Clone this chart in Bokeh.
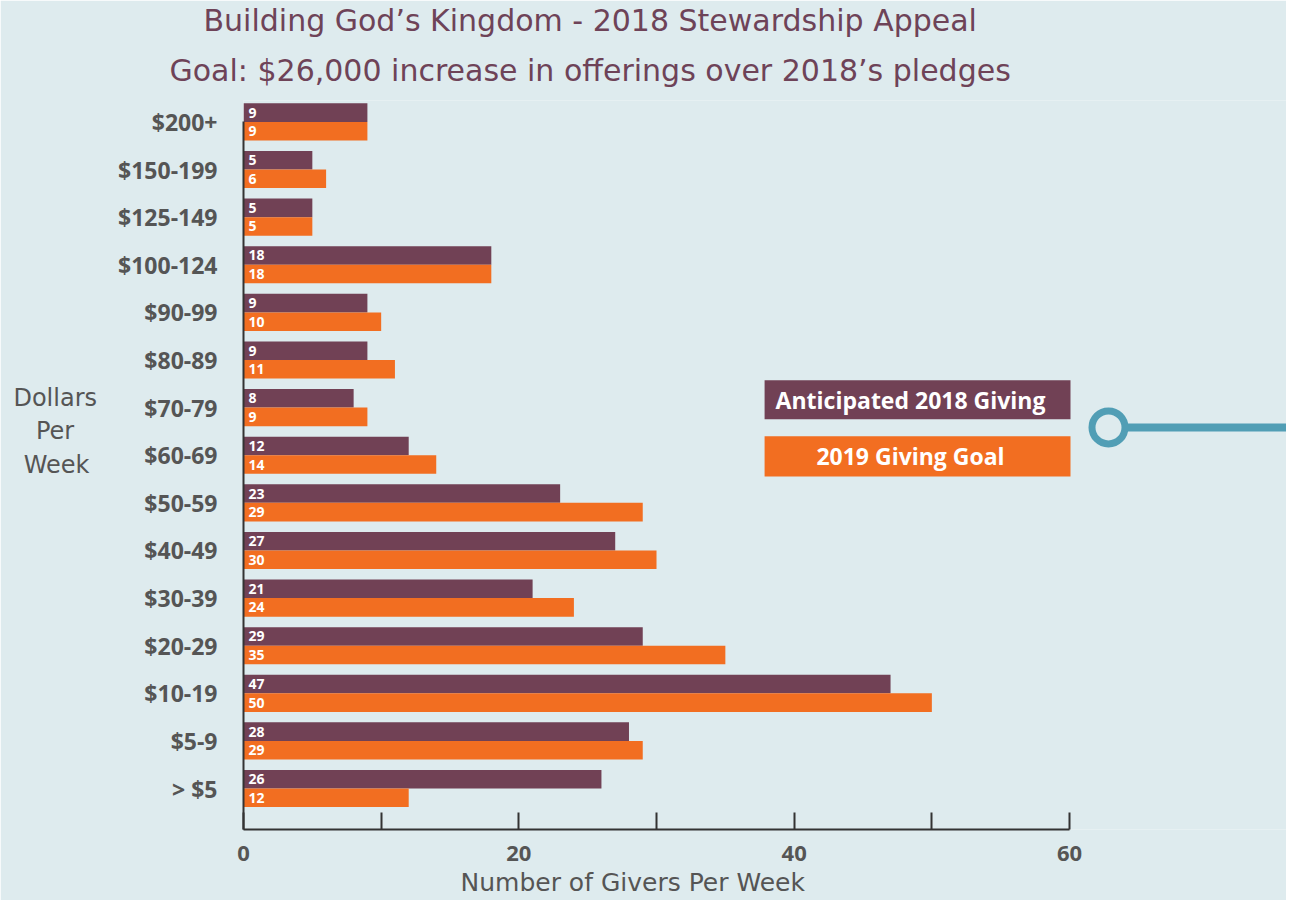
from bokeh.plotting import figure
from bokeh.models import Range1d, FixedTicker, ColumnDataSource, Title
from bokeh.transform import dodge
from bokeh.core.properties import value
from bokeh.embed import file_html
from bokeh.resources import INLINE

# ---- data (top to bottom) ----
categories = ["$200+", "$150-199", "$125-149", "$100-124", "$90-99", "$80-89",
              "$70-79", "$60-69", "$50-59", "$40-49", "$30-39", "$20-29",
              "$10-19", "$5-9", "> $5"]
anticipated_2018 = [9, 5, 5, 18, 9, 9, 8, 12, 23, 27, 21, 29, 47, 28, 26]
goal_2019 = [9, 6, 5, 18, 10, 11, 9, 14, 29, 30, 24, 35, 50, 29, 12]
x_ticks = [0, 20, 40, 60]
x_minor_ticks = [10, 30, 50]
series_names = ["Anticipated 2018 Giving", "2019 Giving Goal"]
title_lines = ["Building God\u2019s Kingdom - 2018 Stewardship Appeal",
               "Goal: $26,000 increase in offerings over 2018\u2019s pledges"]
x_label = "Number of Givers Per Week"
NB = "\u00a0"
y_label = "Dollars\nPer" + NB * 3 + "\nWeek" + NB + "\n" + NB + "\n" + NB

BG = "#deebee"
PURPLE = "#714155"
ORANGE = "#f26e21"
TEAL = "#519eb5"
TXT = "#555555"
TITLE = "#6e4358"
FONT = "Open Sans"
LIGHT = "DejaVu Sans"

n = len(categories)
pos = [n - 1 - i for i in range(n)]
src = ColumnDataSource(dict(pos=pos, cat=categories, a=anticipated_2018, g=goal_2019,
                            a_txt=[str(v) for v in anticipated_2018],
                            g_txt=[str(v) for v in goal_2019]))

p = figure(width=1286, height=900, output_backend="svg", toolbar_location=None,
           x_range=Range1d(0, 75.76), y_range=Range1d(-0.86, 14.45),
           min_border_left=243, min_border_right=0, min_border_top=100, min_border_bottom=71)
p.background_fill_color = BG
p.border_fill_color = BG
p.outline_line_color = None
p.xgrid.visible = False
p.ygrid.visible = False

off = 0.195
h = 0.39
p.hbar(y=dodge("pos", off), left=0, right="a", height=h, source=src, color=PURPLE, line_color=None)
p.hbar(y=dodge("pos", -off), left=0, right="g", height=h, source=src, color=ORANGE, line_color=None)
p.text(x=0, y=dodge("pos", off), text="a_txt", source=src, x_offset=5, text_baseline="middle",
       text_color="white", text_font=value(FONT), text_font_style="bold", text_font_size="14px")
p.text(x=0, y=dodge("pos", -off), text="g_txt", source=src, x_offset=5, text_baseline="middle",
       text_color="white", text_font=value(FONT), text_font_style="bold", text_font_size="14px")

# x axis
xa = p.xaxis[0]
xa.ticker = FixedTicker(ticks=x_ticks, minor_ticks=x_minor_ticks)
xa.bounds = (0, 60)
xa.axis_line_color = "#333333"
xa.axis_line_width = 2
xa.major_tick_in = 17
xa.major_tick_out = 0
xa.minor_tick_in = 17
xa.minor_tick_out = 0
xa.major_tick_line_color = "#333333"
xa.minor_tick_line_color = "#333333"
xa.major_tick_line_width = 2
xa.minor_tick_line_width = 2
xa.major_label_standoff = 16
xa.major_label_text_font = FONT
xa.major_label_text_font_style = "bold"
xa.major_label_text_font_size = "22px"
xa.major_label_text_color = TXT

# y axis
ya = p.yaxis[0]
ya.ticker = FixedTicker(ticks=pos, minor_ticks=[])
ya.major_label_overrides = {pp: c for pp, c in zip(pos, categories)}
ya.bounds = (-0.86, 14)
ya.axis_line_color = "#333333"
ya.axis_line_width = 2
ya.major_tick_in = 0
ya.major_tick_out = 0
ya.minor_tick_in = 0
ya.minor_tick_out = 0
ya.major_label_standoff = 26
ya.major_label_text_font = FONT
ya.major_label_text_font_style = "bold"
ya.major_label_text_font_size = "23px"
ya.major_label_text_color = TXT
ya.axis_label = y_label
ya.axis_label_orientation = "horizontal"
ya.axis_label_standoff = 18
ya.axis_label_text_font = LIGHT
ya.axis_label_text_font_style = "normal"
ya.axis_label_text_font_size = "24px"
ya.axis_label_text_line_height = 1.2
ya.axis_label_text_color = TXT

# legend boxes
p.quad(left=[37.85, 37.85], right=[60.07, 60.07], bottom=[7.754, 6.556], top=[8.573, 7.397],
       color=[PURPLE, ORANGE], line_color=None)
p.text(x=[48.45, 48.45], y=[8.16, 6.98], text=series_names, text_align="center",
       text_baseline="middle", text_color="white", text_font=value(FONT),
       text_font_style="bold", text_font_size="23px")

# decorative connector
p.line(x=[62.83, 75.76], y=[7.585, 7.585], line_color=TEAL, line_width=8)
p.scatter(x=[62.83], y=[7.585], size=33, fill_color=BG, line_color=TEAL, line_width=7)

# titles (second line added first so that it sits nearer the frame)
p.add_layout(Title(text=title_lines[1], align="left", offset=-74, standoff=26,
                   text_color=TITLE, text_font=LIGHT, text_font_style="normal",
                   text_font_size="30px"), "above")
p.add_layout(Title(text=title_lines[0], align="left", offset=-40, standoff=0,
                   text_color=TITLE, text_font=LIGHT, text_font_style="normal",
                   text_font_size="30px"), "above")
# x axis label
p.add_layout(Title(text=x_label, align="left", offset=217, standoff=4,
                   text_color=TXT, text_font=LIGHT, text_font_style="normal",
                   text_font_size="25px"), "below")

open("out.html", "w").write(file_html(p, INLINE))
